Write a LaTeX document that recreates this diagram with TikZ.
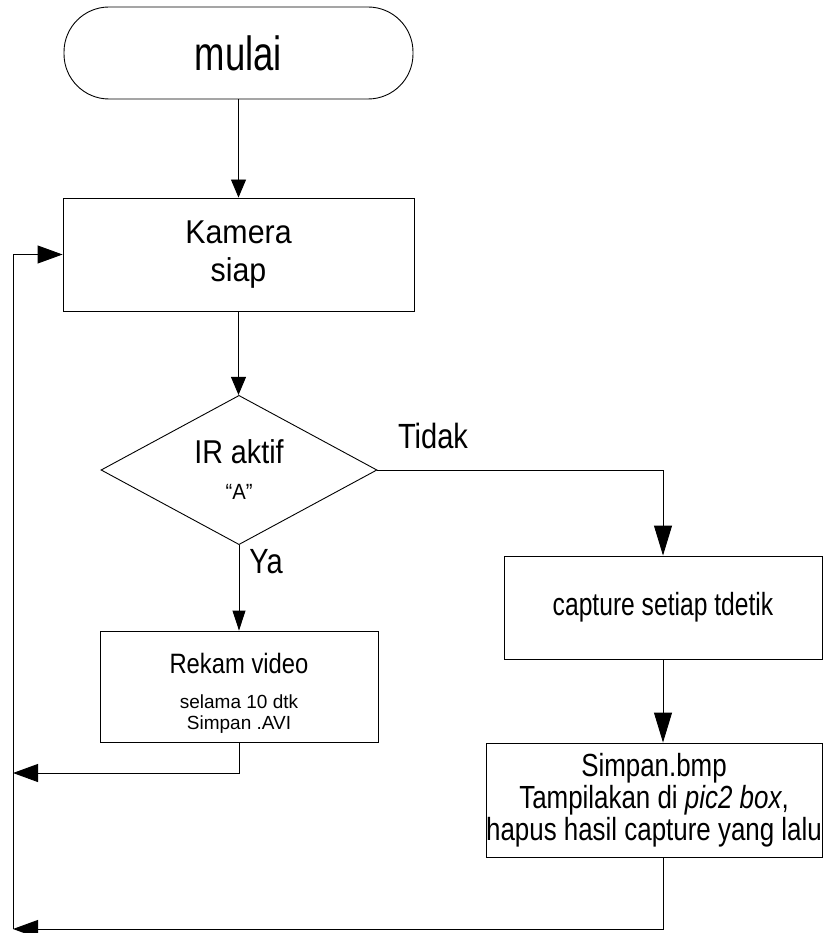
\documentclass[tikz,border=0pt]{standalone}
\usepackage{fontspec}
\setmainfont{Liberation Sans}
\newfontfamily\fMul[FakeStretch=0.76]{Liberation Sans}
\newfontfamily\fKam[FakeStretch=0.92]{Liberation Sans}
\newfontfamily\fIR[FakeStretch=0.87]{Liberation Sans}
\newfontfamily\fLbl[FakeStretch=0.83]{Liberation Sans}
\newfontfamily\fCap[FakeStretch=0.77]{Liberation Sans}
\newfontfamily\fSim[FakeStretch=0.81]{Liberation Sans}
\newfontfamily\fRek[FakeStretch=0.85]{Liberation Sans}
\usetikzlibrary{shapes.geometric,arrows.meta}
\begin{document}
\begin{tikzpicture}[x=1pt,y=-1pt,
  box/.style={draw=black, line width=0.9pt, rectangle, inner sep=0pt, align=center},
  conn/.style={draw=black, line width=0.9pt},
  arrS/.style={conn, -{Triangle[length=18pt,width=15pt]}},
  arrY/.style={conn, -{Triangle[length=20pt,width=13pt]}},
  arrB/.style={conn, -{Triangle[length=30pt,width=18pt]}},
  arrL/.style={conn, -{Triangle[length=25pt,width=18pt]}},
  lbl/.style={inner sep=0pt, font=\fLbl\fontsize{35}{40}\selectfont}]
\useasboundingbox (0,0) rectangle (823,933);
\fill[white] (0,0) rectangle (823,933);

\node[box, rounded corners=45pt, minimum width=349pt, minimum height=92pt,
  font=\fMul\fontsize{48}{50}\selectfont] (start) at (238.5,53) {mulai};
\node[box, minimum width=351pt, minimum height=113pt,
  font=\fKam\fontsize{33}{38}\selectfont] (kam) at (238.5,254.5) {Kamera\\siap};
\node[diamond, draw=black, line width=0.9pt, inner sep=0pt, minimum width=276pt,
  minimum height=124pt, align=center, font=\fIR\fontsize{19}{21}\selectfont]
  (dia) at (239,470) {{\fontsize{33}{36}\selectfont IR aktif}\\[15pt]{\fKam\fontsize{22}{24}\selectfont “A”}};
\node[box, minimum width=278pt, minimum height=111pt,
  font=\fRek\fontsize{19}{21}\selectfont] (rek) at (239,686.5)
  {{\fontsize{28}{30}\selectfont\rule{0pt}{34pt}Rekam video}\\[14pt]\normalfont\fontsize{19}{21}\selectfont selama 10 dtk\\[0pt]\normalfont\fontsize{19}{21}\selectfont Simpan .AVI};
\node[box, minimum width=318pt, minimum height=103pt,
  font=\fCap\fontsize{32}{36}\selectfont] (cap) at (663,607.5) {capture setiap tdetik};
\node[box, minimum width=336pt, minimum height=114pt,
  font=\fSim\fontsize{32}{30}\selectfont] (simp) at (654,800)
  {Simpan.bmp\\[2pt]Tampilakan di \textit{pic2 box},\\[2pt]hapus hasil capture yang lalu};

\node[lbl] (tidak) at (433,436) {Tidak};
\node[lbl] (ya) at (266,562) {Ya};

\coordinate (retA) at (13,773);
\coordinate (retB) at (13,929);

\draw[arrS] (start.south) -- (kam.north);
\draw[arrS] (kam.south) -- (kam.south |- dia.north);
\draw[arrY] (dia.south) -- (dia.south |- rek.north);
\draw[arrB] (dia.east) -| (cap.north);
\draw[arrB] (cap.south) -- (cap.south |- simp.north);
\draw[arrL] (rek.south) |- (retA);
\draw[arrL] (cap.south |- simp.south) |- (retB);
\draw[arrL] (retB) |- (kam.west);
\end{tikzpicture}
\end{document}
